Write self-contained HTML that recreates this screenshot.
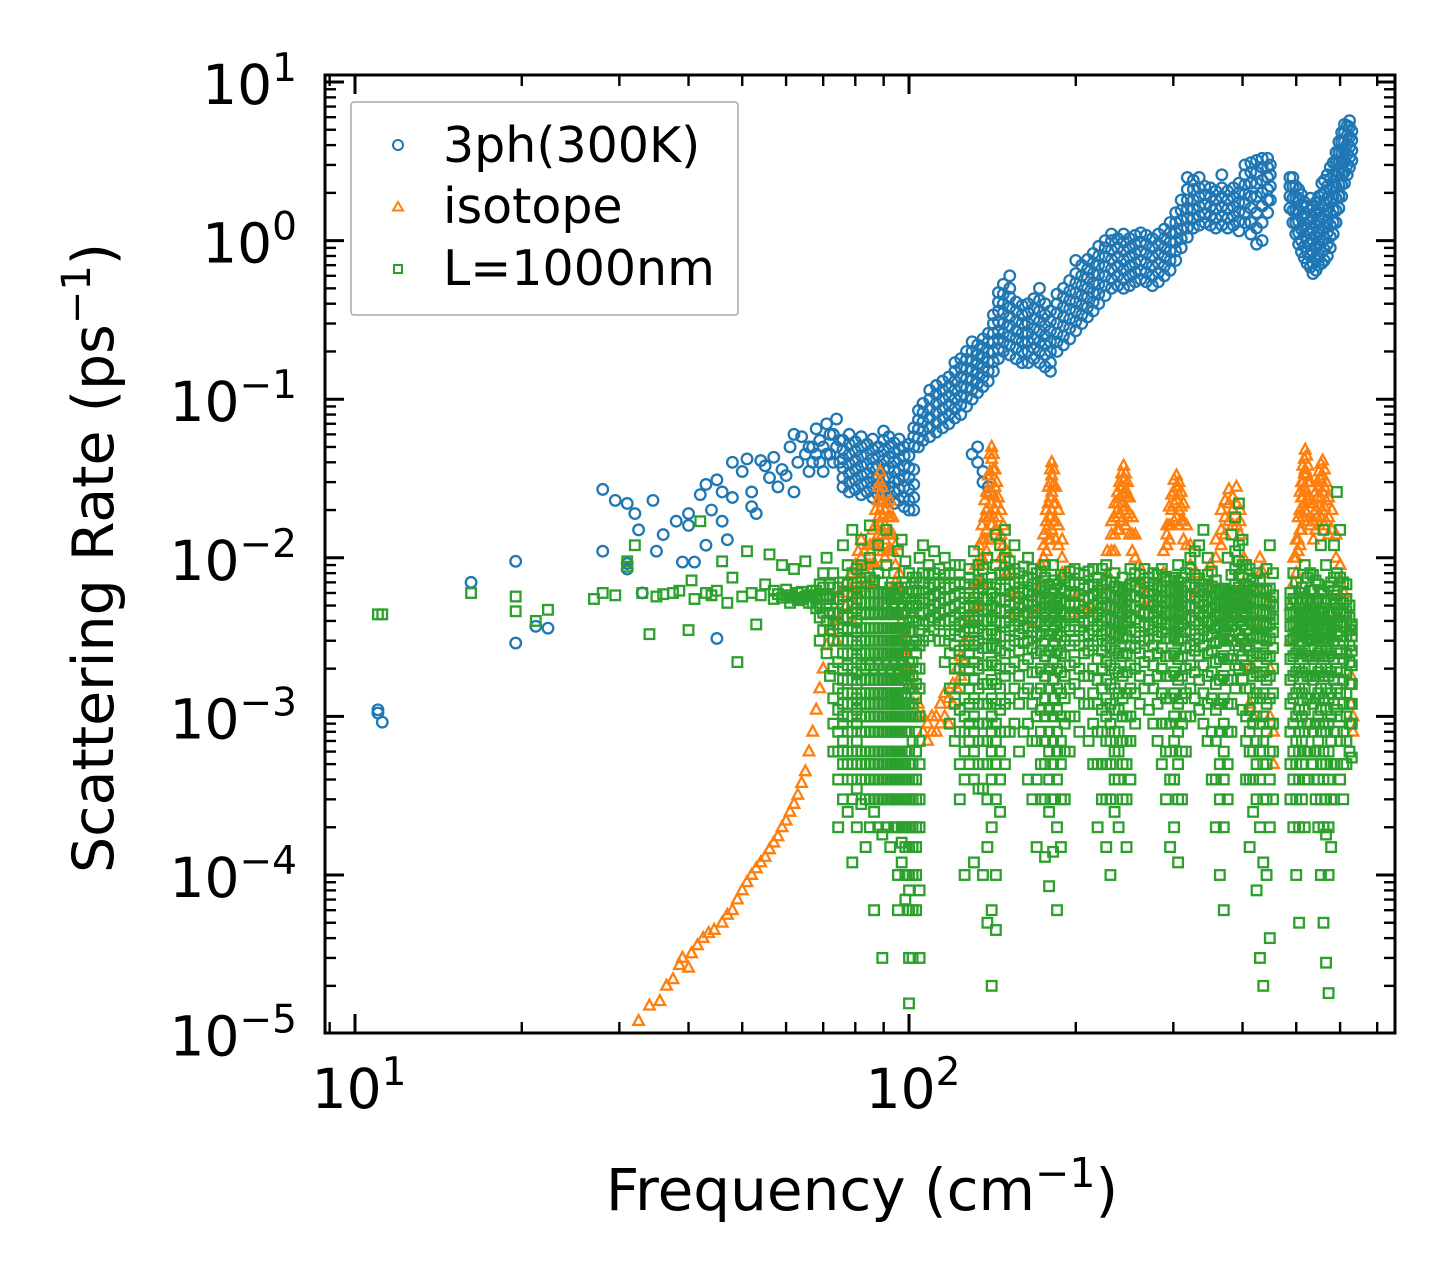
<!DOCTYPE html>
<html><head><meta charset="utf-8"><style>
html,body{margin:0;padding:0;background:#fff;}
svg{display:block;font-family:"DejaVu Sans","Liberation Sans",sans-serif;}
</style></head><body>
<svg id="chart" width="1455" height="1283" viewBox="0 0 1455 1283" xmlns="http://www.w3.org/2000/svg">
<rect x="0" y="0" width="1455" height="1283" fill="#fff"/>
<defs><clipPath id="plotclip"><rect x="325" y="75" width="1070" height="958"/></clipPath></defs>
<g id="marks" clip-path="url(#plotclip)"></g>
<g id="axes"></g>
<text x="862" y="1210" font-size="58" text-anchor="middle">Frequency (cm<tspan dy="-23" font-size="41">−1</tspan><tspan dy="23">)</tspan></text>
<text transform="translate(113,558) rotate(-90)" font-size="57" text-anchor="middle">Scattering Rate (ps<tspan dy="-23" font-size="40">−1</tspan><tspan dy="23">)</tspan></text>
<g>
<rect x="351" y="102" width="387" height="213" fill="#fff" fill-opacity="0.8" stroke="#aaa" stroke-width="1.5" rx="3"/>
<g><circle cx="398" cy="145" r="5" fill="none" stroke="#1f77b4" stroke-width="2"/><text x="443" y="162" font-size="49">3ph(300K)</text></g>
<g><path d="M398,202 L403,210.5 L393,210.5 Z" fill="none" stroke="#ff7f0e" stroke-width="2"/><text x="443" y="223" font-size="49">isotope</text></g>
<g><rect x="394" y="265" width="8" height="8" fill="none" stroke="#2ca02c" stroke-width="2"/><text x="443" y="285" font-size="49">L=1000nm</text></g>
</g>
</svg>
<script>
const xTickExps = [1, 2];
const yTickExps = [1, 0, -1, -2, -3, -4, -5];
const blueData = [
[11,[.0011,.00105]],[11.2,[.00092]],[16.2,[.007]],[19.5,[.0095,.0029]],[21.2,[.0037]],[22.3,[.0036]],
[28,[.027,.011]],[29.5,[.023]],[31,[.022,.0092,.0085]],[32,[.019]],[32.5,[.015]],[33,[.006]],[34.5,[.023]],[35,[.011]],[36,[.014]],[38,[.017]],[39,[.0094]],[40,[.019,.016]],[41,[.0094]],[42,[.025]],[43,[.029,.012]],[44,[.02]],[45,[.031,.0031]],[46,[.026,.017]],[47,[.013]],[48,[.04,.024]],[50,[.035]],[51,[.042]],[52,[.026,.021]],[53,[.019]],[54,[.041]],[55,[.038]],[56,[.032]],[57,[.043]],[58,[.028]],[59,[.036]],[60,[.033]],[61,[.05]],[62,[.06,.026]],[63,[.04]],[64,[.058]],[65,[.045]],[66,[.035,.05]],[67,[.05,.04]],[68,[.065,.045]],[69,[.04,.055]],[70,[.05,.035]],[71,[.07,.045]],[72,[.045,.06]],[73,[.06,.04]],[74,[.075,.05]],[75,[.055,.04]],
[76,[.028,.032,.037,.042,.048,.055]],[78,[.026,.03,.034,.039,.045,.052,.06]],[80,[.027,.031,.036,.041,.047,.054]],[82,[.025,.029,.033,.038,.044,.05,.058]],[84,[.026,.03,.034,.039,.045,.052]],[86,[.024,.028,.032,.037,.042,.048,.056]],[88,[.025,.029,.033,.038,.044,.05]],[90,[.023,.027,.031,.036,.041,.047,.055,.063]],[92,[.024,.028,.032,.037,.043,.05,.058]],[94,[.022,.026,.03,.035,.04,.046,.053]],[96,[.023,.027,.031,.036,.042,.048,.056]],[98,[.021,.024,.028,.033,.038,.044,.05]],[100,[.02,.023,.027,.032,.037,.044,.052]],[102,[.02,.024,.029,.036,.05,.058,.066]],[104,[.05,.057,.065,.074,.085]],
[106,[.055,.063,.072,.082,.094]],[109,[.058,.066,.076,.087,.1,.114]],[112,[.062,.071,.082,.094,.107,.122]],[115,[.066,.076,.087,.1,.114,.13]],[118,[.07,.08,.092,.105,.12,.138]],[121,[.076,.087,.1,.114,.13,.15,.17]],[124,[.08,.092,.105,.12,.138,.158,.18]],[127,[.09,.103,.118,.135,.155,.178,.2]],[130,[.045,.1,.115,.132,.152,.175,.2,.23]],[133,[.04,.05,.11,.126,.145,.167,.19,.22]],[136,[.03,.035,.12,.138,.158,.182,.21,.24]],[139,[.028,.13,.15,.172,.198,.23,.26]],[142,[.15,.172,.198,.23,.26,.3,.34]],[145,[.18,.207,.24,.27,.31,.36,.41,.47]],[148,[.2,.23,.26,.3,.35,.4,.46,.53]],[152,[.19,.22,.25,.29,.33,.38,.44,.5,.6]],[156,[.18,.21,.24,.27,.31,.36,.41]],[160,[.17,.2,.23,.26,.3,.34,.39]],[164,[.17,.2,.23,.26,.3,.35,.4]],[168,[.18,.21,.24,.28,.32,.37,.43]],[172,[.17,.2,.23,.27,.31,.36,.42,.5]],[176,[.16,.19,.22,.25,.29,.34,.4]],[180,[.15,.17,.2,.23,.27,.31,.36]],[185,[.2,.23,.26,.3,.35,.4,.46]],[190,[.22,.25,.29,.33,.38,.44,.5]],[195,[.24,.28,.32,.37,.42,.48,.56]],[200,[.27,.31,.36,.41,.47,.54,.62,.75]],[205,[.3,.34,.39,.45,.52,.6,.7]],[210,[.33,.38,.44,.5,.58,.66,.76]],[215,[.36,.41,.47,.54,.62,.72,.83]],[220,[.4,.46,.53,.61,.7,.8,.92]],[226,[.45,.52,.6,.69,.79,.9,1.0]],[232,[.5,.57,.66,.76,.87,1.0,1.1]],[238,[.52,.6,.69,.79,.9,1.03]],[244,[.5,.57,.65,.75,.86,.98,1.1]],[250,[.52,.6,.69,.79,.9,1.03]],[256,[.55,.63,.72,.83,.95,1.08]],[262,[.57,.65,.75,.86,.98,1.12]],[268,[.55,.63,.72,.83,.95,1.08]],[275,[.52,.6,.69,.79,.9,1.03]],[282,[.55,.63,.72,.83,.95,1.1]],[289,[.6,.69,.79,.9,1.03,1.18]],[296,[.65,.75,.86,.98,1.12,1.3]],[303,[.75,.86,.98,1.12,1.3,1.5]],[310,[.9,1.03,1.18,1.35,1.55,1.8]],[318,[1.05,1.2,1.38,1.58,1.8,2.1,2.5]],[326,[1.2,1.38,1.58,1.8,2.1,2.4]],[334,[1.25,1.43,1.64,1.88,2.15,2.5]],[342,[1.3,1.48,1.7,1.95,2.2]],[350,[1.25,1.43,1.64,1.88,2.15]],[358,[1.2,1.38,1.58,1.8,2.05]],[367,[1.25,1.43,1.64,1.88,2.15,2.6]],[376,[1.2,1.38,1.58,1.8,2.05]],[385,[1.25,1.43,1.64,1.88,2.15]],[394,[1.15,1.32,1.52,1.74,2.0,2.3]],[404,[1.3,1.5,1.72,1.97,2.25,2.6,3.0]],[414,[1.1,1.3,1.6,1.9,2.3,2.7,3.1]],[424,[0.95,1.2,1.5,1.9,2.3,2.7,3.2]],[434,[1.0,1.3,1.65,2.0,2.4,2.9,3.3]],[444,[1.5,1.8,2.1,2.5,2.9,3.3]],[449,[1.8,2.2,2.6,3.0]],
[487,[1.6,1.9,2.2,2.5]],[493,[1.3,1.55,1.85,2.2,2.5]],[499,[1.1,1.3,1.55,1.85,2.2]],[505,[0.95,1.12,1.32,1.55,1.85,2.1]],[511,[0.85,1.0,1.18,1.4,1.65,1.95]],[517,[0.78,0.92,1.08,1.28,1.5,1.75]],[523,[0.72,0.85,1.0,1.18,1.4,1.65]],[530,[0.68,0.8,0.94,1.1,1.3,1.55,1.85]],[536,[0.62,0.72,0.85,1.0,1.18,1.4,1.65]],[543,[0.65,0.76,0.9,1.06,1.25,1.48,1.75]],[549,[0.7,0.82,0.97,1.15,1.36,1.6,1.9]],[556,[0.72,0.85,1.0,1.18,1.4,1.65,1.95,2.3]],[562,[0.75,0.88,1.04,1.23,1.45,1.7,2.0,2.4]],[569,[0.8,0.95,1.12,1.32,1.56,1.85,2.2,2.6]],[576,[0.9,1.06,1.25,1.48,1.75,2.07,2.45,2.9]],[583,[1.1,1.3,1.55,1.85,2.2,2.6,3.1]],[590,[1.3,1.55,1.85,2.2,2.6,3.1,3.6]],[597,[1.6,1.9,2.25,2.65,3.1,3.6,4.2]],[604,[1.9,2.25,2.65,3.1,3.6,4.2,4.8]],[611,[2.3,2.7,3.15,3.65,4.2,4.8,5.4]],[618,[2.6,3.0,3.5,4.05,4.6,5.3]],[624,[2.9,3.35,3.9,4.5,5.2,5.7]],[630,[3.2,3.7,4.3,4.9]]
];
const orangeData = [
[32.5,[1.2e-5]],[34,[1.5e-5]],[35.5,[1.6e-5]],[36.5,[2e-5]],[37.5,[2.2e-5]],[38.5,[2.7e-5]],[39,[3e-5]],[40,[2.6e-5]],[40.5,[3.2e-5]],[41.5,[3.6e-5]],[42.5,[4e-5]],[43.5,[4.3e-5]],[44.5,[4.5e-5]],[46,[5e-5]],[47,[5.6e-5]],[48,[6e-5]],[49,[7e-5]],[50,[8e-5]],[51,[9e-5]],[52,[1e-4]],[53,[1.1e-4]],[54,[1.2e-4]],[55,[1.3e-4]],[56,[1.45e-4]],[57,[1.6e-4]],[58,[1.75e-4]],[59,[2e-4]],[60,[2.2e-4]],[61,[2.5e-4]],[62,[2.8e-4]],[63,[3.2e-4]],[64,[3.8e-4]],[65,[4.5e-4]],[66,[6e-4]],[67,[8e-4]],[68,[1.1e-3]],[69,[1.5e-3]],[70,[2e-3]],[71,[2.8e-3]],[72,[3.5e-3]],
[74,[4.5e-3,3e-3]],[75,[6e-3,4e-3]],[77,[7e-3,5e-3]],[79,[8e-3,6e-3,4e-3]],[80,[9e-3,7e-3,5e-3]],[81,[1.1e-2,8e-3,6e-3]],[82,[1.3e-2,1e-2,7.5e-3]],[83,[1.1e-2,8.5e-3,6.5e-3]],[84,[9e-3,7e-3]],[85,[1.2e-2,9e-3,7e-3]],[86,[1.5e-2,1.2e-2,9e-3]],[87,[2e-2,1.6e-2,1.2e-2,9e-3]],[88,[2.8e-2,2.3e-2,1.8e-2,1.4e-2,1.1e-2]],[88.7,[3.5e-2,3e-2,2.5e-2,2e-2,1.6e-2]],[89.5,[2.8e-2,2.3e-2,1.8e-2,1.4e-2,1.1e-2]],[90.5,[2e-2,1.6e-2,1.3e-2,1e-2]],[91.5,[1.8e-2,2.2e-2,1.4e-2,1.1e-2]],[92.5,[2.3e-2,1.8e-2,1.4e-2,1.1e-2]],[93.5,[1.8e-2,1.4e-2,1.1e-2]],[94.5,[1.2e-2,9e-3,7e-3]],[96,[8e-3,6e-3,4.5e-3]],[97,[5e-3,4e-3,3e-3]],[98,[3.5e-3,2.6e-3,2e-3]],[99,[2.5e-3,1.9e-3]],[100,[2e-3,1.6e-3]],[102,[1.5e-3,1.2e-3]],[104,[1.2e-3,1e-3]],[106,[1.0e-3,8e-4]],[108,[9e-4,7e-4]],[110,[8e-4,1e-3]],[112,[1e-3,8e-4]],[114,[1.2e-3,9e-4]],[116,[1e-3,1.4e-3]],[118,[9e-4,1.3e-3]],[120,[1.2e-3,1.6e-3]],[122,[1.5e-3,2e-3]],[124,[1.8e-3,2.4e-3]],[126,[2.2e-3,3e-3]],[128,[3e-3,4e-3]],[130,[4e-3,5.5e-3]],[132,[5e-3,7e-3,9e-3]],[134,[7e-3,9e-3,1.2e-2,5e-3]],[135.5,[1e-2,1.3e-2,1.6e-2,7e-3]],[137,[1.3e-2,1.8e-2,2.3e-2,9e-3]],[138,[1.5e-2,2e-2,2.6e-2,1.1e-2]],[139,[2.5e-2,3.3e-2,1.8e-2,1.3e-2]],[140,[3.5e-2,4.5e-2,2.6e-2,1.8e-2,1.3e-2]],[141,[5e-2,4.2e-2,3e-2,2.2e-2,1.6e-2]],[142,[4.5e-2,3.6e-2,2.5e-2,1.8e-2]],[143,[3.6e-2,2.8e-2,2e-2,1.5e-2]],[144,[3e-2,2.2e-2,1.5e-2]],[145,[2.4e-2,1.8e-2,1.3e-2]],[146.5,[2e-2,1.4e-2,1e-2]],[148,[1.6e-2,1.2e-2,9e-3]],[150,[1.1e-2,8e-3]],[153,[8e-3,6e-3]],[156,[6e-3,4.5e-3]],[160,[5e-3]],[165,[4e-3]],[170,[4.5e-3,6e-3]],[173,[7e-3,9e-3]],[175,[1e-2,1.4e-2,1.2e-2]],[177,[1.5e-2,2e-2,1.1e-2,1.7e-2]],[178.5,[2.2e-2,2.8e-2,1.6e-2,1.3e-2]],[180,[3e-2,3.6e-2,2.4e-2,1.8e-2,1.3e-2]],[181,[4e-2,3.3e-2,2.6e-2,2e-2,1.5e-2]],[182.5,[3.6e-2,2.9e-2,2.2e-2,1.7e-2]],[184,[2.8e-2,2.2e-2,1.7e-2,1.3e-2]],[186,[2e-2,1.6e-2,1.2e-2]],[189,[1.3e-2,1e-2,8e-3]],[193,[8e-3,6e-3]],[198,[6e-3,4.5e-3]],[205,[5e-3]],[212,[4.5e-3]],[220,[5e-3,6.5e-3]],[228,[8e-3,1.1e-2]],[232,[1.1e-2,1.4e-2,1.7e-2]],[235,[1.4e-2,1.8e-2,2.2e-2,1.1e-2]],[238,[2e-2,2.6e-2,1.5e-2,2.2e-2]],[240,[2.4e-2,3e-2,1.9e-2,1.5e-2]],[242,[2.8e-2,3.4e-2,2.2e-2,1.7e-2]],[244,[3.8e-2,3.1e-2,2.5e-2,2e-2]],[246,[3.4e-2,2.7e-2,2.1e-2,1.6e-2]],[248,[3e-2,2.4e-2,1.8e-2]],[250,[2.4e-2,1.9e-2,1.4e-2]],[253,[1.8e-2,1.4e-2,1.1e-2]],[256,[1.4e-2,1e-2]],[260,[9e-3,7e-3]],[266,[6e-3,5e-3]],[274,[5e-3]],[282,[5.5e-3,7e-3]],[288,[8e-3,1.1e-2]],[292,[1.2e-2,1.6e-2,1.4e-2]],[295,[1.6e-2,2.1e-2,1.3e-2]],[298,[2e-2,2.5e-2,1.6e-2]],[301,[2.6e-2,3.1e-2,2.2e-2,1.7e-2]],[304,[3.3e-2,2.8e-2,2.3e-2,1.8e-2]],[307,[3e-2,2.5e-2,2e-2,1.6e-2]],[310,[2.6e-2,2.1e-2,1.7e-2]],[313,[2.2e-2,1.7e-2,1.3e-2]],[317,[1.6e-2,1.2e-2]],[322,[1.2e-2,9e-3]],[330,[8e-3,6e-3]],[340,[6e-3,7e-3]],[350,[7e-3,9e-3]],[358,[1e-2,1.3e-2]],[366,[1.5e-2,2e-2,1.2e-2]],[372,[1.8e-2,2.3e-2,1.4e-2]],[378,[2.2e-2,2.7e-2,1.7e-2]],[384,[2.4e-2,2e-2,1.6e-2]],[390,[2.2e-2,2.8e-2,1.6e-2]],[396,[2e-2,1.4e-2,1.7e-2]],[402,[1e-2,7e-3]],[407,[5e-3,3e-3]],[412,[2e-3,1.2e-3]],[418,[1e-3,2e-3]],[424,[4e-3,6e-3]],[430,[8e-3,1e-2]],[436,[8e-3,6e-3]],[442,[5e-3,3e-3]],[448,[2e-3,1e-3]],[455,[8e-4,5e-4]],
[488,[3e-3,5e-3]],[495,[7e-3,1e-2]],[500,[1e-2,1.3e-2,8e-3]],[504,[1.3e-2,1.8e-2,1.1e-2]],[508,[2e-2,2.6e-2,1.5e-2,1.2e-2]],[511,[2.4e-2,3e-2,1.9e-2,1.5e-2]],[514,[3e-2,3.8e-2,2.4e-2,1.8e-2]],[517,[4.2e-2,3.4e-2,2.8e-2,2.2e-2,1.7e-2]],[519,[4.8e-2,3.6e-2,2.7e-2,2e-2]],[522,[4.4e-2,3.4e-2,2.6e-2,1.9e-2]],[525,[3.8e-2,3e-2,2.3e-2,1.7e-2]],[530,[3e-2,2.2e-2,1.6e-2]],[537,[2.2e-2,1.7e-2,1.3e-2]],[542,[2.6e-2,2e-2,1.5e-2]],[546,[3e-2,2.4e-2,1.8e-2]],[550,[3.5e-2,2.8e-2,2.1e-2,1.6e-2]],[554,[3.9e-2,3.1e-2,2.4e-2,1.8e-2]],[558,[4.1e-2,3.3e-2,2.6e-2,2e-2]],[562,[3.6e-2,2.8e-2,2.1e-2,1.6e-2]],[566,[3e-2,2.3e-2,1.7e-2]],[572,[2.4e-2,1.8e-2,1.4e-2]],[580,[2e-2,1.5e-2]],[590,[1.4e-2,1e-2]],[600,[9e-3,7e-3]],[610,[6e-3,4.5e-3]],[620,[3.5e-3,2.5e-3]],[628,[1.8e-3,1.2e-3]],[633,[1e-3,8e-4]]
];
const greenData = [
[11,[.0044]],[11.2,[.0044]],[16.2,[.006]],[19.5,[.0057,.0046]],[21.2,[.004]],[22.3,[.0047]],[27,[.0055]],[28,[.006]],[29.5,[.0058]],[31,[.0095,.0088]],[32,[.012]],[33,[.006]],[34,[.0033]],[35,[.0057]],[36,[.0059]],[37.5,[.006]],[38.5,[.0062]],[40,[.0035]],[40.5,[.0072]],[41,[.0055]],[42,[.017]],[43,[.006]],[44,[.0058]],[45,[.0062]],[46,[.0095]],[47,[.0052]],[48,[.0075]],[49,[.0022]],[50,[.0057]],[51,[.011]],[52,[.006]],[53,[.0038]],[54,[.0058]],[55,[.0068]],[56,[.0105]],[57,[.0055,.0062]],[58,[.0059]],[59,[.009,.0056]],[60,[.0058,.0063]],[61,[.0052,.0058]],[62,[.0085,.0056]],[63,[.006,.0054]],[64,[.0055,.0061]],[65,[.0095,.0057]],[66,[.0058,.0052]],[67,[.0052,.0062]],[68,[.0062,.0048,.0056]],
[69,[.003,.0042,.005,.0058,.0068]],[70,[.0035,.0045,.0055,.0065,.008]],[71,[.0025,.004,.005,.0058,.01]],[72,[.0018,.0035,.0045,.0055,.0068]],[73,[.0006,.0009,.0013,.002,.003,.0038,.0045,.0055,.0065,.008]],[74.5,[.0002,.0004,.0006,.0008,.0011,.0015,.0022,.003,.0038,.0045,.0055,.0065]],[76,[.0003,.0005,.0006,.0007,.0009,.001,.0012,.0014,.0017,.002,.0025,.003,.0036,.0042,.005,.0058,.007,.012]],[77.5,[.00025,.0004,.0005,.0006,.0008,.001,.0012,.0014,.0017,.0021,.0025,.003,.0035,.0042,.005,.0058,.0068,.009]],[79,[.00012,.0003,.0004,.0005,.0006,.0008,.001,.0012,.0014,.0017,.002,.0025,.003,.0036,.0045,.0052,.006,.008,.015]],[80.5,[.0002,.00035,.0005,.0006,.0007,.0009,.0011,.0013,.0016,.0019,.0023,.0028,.0034,.004,.0048,.0055,.0065,.0085]],[82,[.00028,.0004,.0005,.0006,.0008,.001,.0012,.0014,.0017,.0021,.0025,.003,.0036,.0044,.0052,.006,.007,.009,.013]],[83.5,[.00015,.0003,.0004,.0005,.0006,.0008,.001,.0012,.0014,.0017,.002,.0025,.003,.0036,.0045,.0052,.006,.0075]],[85,[.0002,.0003,.0004,.0005,.0006,.0008,.001,.0012,.0014,.0017,.0021,.0025,.003,.0036,.0044,.0052,.006,.0075,.01,.016]],[86.5,[.00006,.00025,.0003,.0004,.0005,.0006,.0008,.001,.0012,.0014,.0017,.002,.0025,.003,.0036,.0045,.0052,.006,.0072]],[88,[.0002,.0003,.0004,.0005,.0006,.0008,.001,.0012,.0014,.0017,.0021,.0025,.003,.0036,.0044,.0052,.006,.008,.012]],[89.5,[.00003,.00018,.0003,.0004,.0005,.0006,.0008,.001,.0012,.0014,.0017,.002,.0025,.003,.0036,.0045,.0052,.006,.007]],[91,[.0002,.0003,.0004,.0005,.0006,.0008,.001,.0012,.0014,.0017,.0021,.0025,.003,.0036,.0044,.0052,.006,.009,.015]],[92.5,[.00015,.0003,.0004,.0005,.0006,.0008,.001,.0012,.0014,.0017,.002,.0025,.003,.0036,.0045,.0055,.0065]],[94,[.0002,.0003,.0004,.0005,.0006,.0008,.001,.0012,.0014,.0017,.0021,.0025,.003,.0036,.0044,.0052,.006,.008]],[95.5,[.00006,.0001,.0002,.0003,.0004,.0005,.0006,.0008,.001,.0012,.0014,.0017,.002,.0025,.003,.0036,.0045,.0055,.0065,.011]],[97,[.00016,.00012,.0002,.0003,.0004,.0005,.0006,.0008,.001,.0012,.0014,.0017,.0021,.0025,.003,.0036,.0044,.0052,.0065,.013]],[98.5,[.00007,.0001,.00015,.0002,.0003,.0004,.0005,.0006,.0008,.001,.0012,.0014,.0017,.002,.0025,.003,.0036,.0045,.0055,.007,.0095]],[100,[.0000155,.00003,.00006,.00008,.0001,.00015,.0002,.0003,.0004,.0005,.0006,.0008,.001,.0012,.0015,.0018,.0022,.0028,.0034,.004,.005,.006,.008]],[101.5,[.00003,.00006,.0001,.00015,.0002,.0003,.0004,.0005,.0007,.001,.0012,.0015,.0018,.0022,.0028,.0034,.0042,.005,.006,.0075]],[103,[.00006,.0001,.00015,.0002,.0003,.0004,.0006,.0008,.001,.0013,.0016,.002,.0025,.003,.004,.005,.0062,.0075]],[104.5,[.00003,.00008,.0002,.0003,.0005,.0007,.001,.0015,.002,.0028,.0035,.0045,.0055,.007,.01]],
[106,[.003,.0038,.0045,.0052,.006,.007,.008,.012]],[108.5,[.0032,.004,.0047,.0055,.0065,.0078,.009]],[111,[.0035,.0042,.005,.0058,.0068,.008,.011]],[113.5,[.003,.0038,.0045,.0052,.006,.007,.0085]],[116,[.0022,.003,.004,.0047,.0055,.0065,.0078,.01]],[118.5,[.0009,.0015,.0025,.0033,.004,.0048,.0056,.0065,.008]],[121,[.0007,.0012,.002,.0028,.0035,.0042,.005,.0058,.0068,.009]],[123.5,[.0003,.0005,.0008,.0011,.0015,.002,.0026,.0032,.0038,.0045,.0052,.006,.007,.009]],[126,[.0001,.0004,.0006,.0008,.001,.0013,.0017,.0022,.0028,.0034,.004,.0048,.0056,.0068]],[128.5,[.0005,.0007,.0009,.0012,.0015,.002,.0025,.003,.0036,.0043,.005,.006,.0075,.0085]],[131,[.00012,.0004,.0006,.0008,.001,.0013,.0017,.0022,.0028,.0034,.004,.0048,.0056,.0068,.011]],[133.5,[.00035,.0005,.0007,.0009,.0012,.0015,.002,.0025,.003,.0036,.0043,.005,.006,.0072,.009]],[136,[.0001,.00035,.0005,.0007,.0009,.0012,.0016,.0021,.0027,.0033,.004,.0047,.0055,.0065,.0085]],[138.5,[.00005,.00015,.0003,.0005,.0007,.0009,.0012,.0016,.0021,.0027,.0033,.004,.0047,.0055,.0068,.01]],[141,[.00002,.00006,.0002,.0004,.0006,.0008,.001,.0013,.0017,.0022,.0028,.0035,.0042,.005,.006,.0075]],[143.5,[.000045,.0001,.0003,.0005,.0007,.0009,.0012,.0016,.0021,.0027,.0033,.004,.0048,.0056,.0068,.009,.014]],[146,[.00025,.0004,.0006,.0008,.0011,.0015,.002,.0026,.0032,.0039,.0046,.0054,.0064,.008,.012]],[149,[.0005,.0008,.0012,.0018,.0025,.0032,.0039,.0046,.0054,.0064,.0078,.01,.015]],[152,[.0008,.0013,.002,.0028,.0035,.0042,.005,.0058,.0068,.008,.0095]],[155,[.0009,.0015,.0022,.003,.0037,.0044,.0052,.006,.007,.0085,.012]],[158,[.0006,.0012,.0018,.0026,.0033,.004,.0048,.0056,.0065,.008]],[161,[.0008,.0014,.0021,.0029,.0036,.0043,.0051,.006,.0072,.0088]],[164,[.0004,.0009,.0015,.0023,.003,.0037,.0045,.0053,.0062,.0075,.01]],[167,[.0003,.0007,.0012,.0019,.0027,.0034,.0042,.005,.0058,.0068,.0085]],[170,[.00015,.0004,.0007,.001,.0014,.0019,.0025,.0032,.0039,.0046,.0054,.0064,.008]],[173,[.0003,.0005,.0008,.0011,.0015,.002,.0026,.0033,.004,.0048,.0056,.0066,.0082]],[176,[.00013,.0003,.0005,.0007,.001,.0013,.0018,.0024,.003,.0037,.0044,.0052,.0062,.0075,.009]],[179,[.000085,.00025,.0004,.0006,.0008,.0011,.0015,.002,.0026,.0033,.004,.0048,.0056,.0068]],[182,[.00014,.0003,.0005,.0007,.001,.0013,.0017,.0022,.0028,.0035,.0042,.005,.006,.0072,.009]],[185,[.00006,.0002,.0004,.0006,.0008,.0011,.0015,.002,.0026,.0033,.004,.0048,.0056,.0068]],[188,[.00015,.0003,.0005,.0007,.001,.0014,.0019,.0025,.0032,.0039,.0046,.0054,.0064,.0078]],[191,[.0003,.0006,.0009,.0013,.0018,.0024,.003,.0037,.0044,.0052,.0062,.0075]],[195,[.0006,.001,.0015,.0021,.0028,.0035,.0042,.005,.0058,.0068,.0082]],[199,[.001,.0016,.0022,.003,.0037,.0044,.0052,.006,.007,.0085]],[203,[.0008,.0014,.002,.0028,.0035,.0042,.005,.0058,.0068,.008]],[207,[.0012,.0018,.0025,.0032,.0039,.0046,.0054,.0064,.0078]],[211,[.0007,.0012,.0018,.0026,.0033,.004,.0048,.0056,.0066,.0082]],[215,[.0005,.0009,.0014,.002,.0028,.0035,.0042,.005,.0058,.0068,.0085]],[219,[.0002,.0005,.0008,.0012,.0017,.0023,.003,.0037,.0044,.0052,.0062,.0075]],[223,[.0003,.0005,.0008,.0011,.0015,.002,.0026,.0033,.004,.0048,.0056,.0068,.0085]],[227,[.00015,.0003,.0005,.0007,.001,.0013,.0017,.0022,.0028,.0035,.0042,.005,.006,.0072,.009]],[231,[.0001,.0003,.0005,.0007,.0009,.0012,.0016,.0021,.0027,.0034,.0041,.0049,.0058,.007]],[235,[.00025,.0004,.0006,.0008,.0011,.0015,.002,.0026,.0033,.004,.0048,.0056,.0066,.008]],[239,[.0002,.0004,.0006,.0008,.0011,.0014,.0019,.0025,.0032,.0039,.0046,.0054,.0064]],[243,[.0003,.0005,.0007,.001,.0013,.0018,.0024,.0031,.0038,.0045,.0053,.0062,.0075]],[247,[.00015,.0003,.0005,.0007,.001,.0014,.0019,.0025,.0032,.0039,.0046,.0054,.0064]],[251,[.0004,.0007,.001,.0015,.0021,.0028,.0035,.0042,.005,.0058,.0068,.0085]],[256,[.0009,.0014,.002,.0027,.0034,.0041,.0049,.0057,.0066,.008]],[261,[.0012,.0018,.0025,.0032,.0039,.0046,.0054,.0064,.0078]],[266,[.0015,.0022,.003,.0037,.0044,.0052,.006,.007,.0085]],[271,[.0011,.0017,.0024,.0031,.0038,.0045,.0053,.0062,.0075]],[276,[.0009,.0015,.0021,.0028,.0035,.0042,.005,.0058,.0068,.008]],[281,[.0007,.0012,.0018,.0025,.0032,.0039,.0046,.0054,.0064,.0078]],[286,[.0005,.0009,.0014,.002,.0027,.0034,.0041,.0049,.0057,.0066,.0085]],[291,[.0003,.0006,.0009,.0013,.0018,.0024,.0031,.0038,.0045,.0053,.0062,.0076]],[296,[.00015,.0004,.0006,.0009,.0013,.0018,.0024,.0031,.0038,.0045,.0053,.0062,.0072]],[301,[.0002,.0004,.0007,.001,.0014,.0019,.0025,.0032,.0039,.0046,.0054,.0064,.0075]],[306,[.00012,.0003,.0005,.0008,.0012,.0017,.0023,.003,.0037,.0044,.0052,.006,.007,.009]],[311,[.0003,.0006,.0009,.0013,.0018,.0024,.0031,.0038,.0045,.0053,.0062,.0075]],[316,[.0006,.001,.0014,.002,.0027,.0034,.0041,.0049,.0057,.0066,.008]],[322,[.001,.0015,.0021,.0028,.0035,.0042,.005,.0058,.0068,.0085,.01]],[328,[.0013,.0019,.0026,.0033,.004,.0048,.0056,.0065,.0078,.011]],[334,[.0011,.0017,.0024,.0031,.0038,.0045,.0053,.0062,.0074,.012]],[340,[.0009,.0014,.0021,.0028,.0035,.0042,.005,.0058,.0068,.015]],[346,[.0007,.0012,.0018,.0025,.0032,.0039,.0046,.0054,.0064,.0078,.01]],[352,[.0004,.0008,.0013,.0019,.0026,.0033,.004,.0048,.0056,.0066,.0082]],[358,[.0002,.0004,.0007,.0011,.0016,.0022,.0029,.0036,.0043,.0051,.006,.0072]],[364,[.0001,.0003,.0005,.0008,.0012,.0017,.0023,.003,.0037,.0044,.0052,.0062]],[370,[.00006,.0002,.0004,.0006,.0009,.0013,.0018,.0024,.0031,.0038,.0045,.0053,.0064]],[376,[.0003,.0005,.0008,.0012,.0017,.0023,.003,.0037,.0044,.0052,.0062,.01]],[382,[.0008,.0012,.0017,.0023,.003,.0037,.0044,.0052,.0062,.0078,.014]],[388,[.0015,.0021,.0028,.0035,.0042,.005,.0058,.0068,.0085,.011,.018]],[394,[.002,.0026,.0033,.004,.0048,.0056,.0065,.0078,.0095,.012,.022]],[400,[.0011,.0017,.0024,.0031,.0038,.0045,.0053,.0062,.0075,.009,.013]],[406,[.0004,.0007,.001,.0015,.0021,.0028,.0035,.0042,.005,.0058,.0068,.009]],[412,[.00015,.0004,.0006,.0008,.0011,.0015,.002,.0026,.0033,.004,.0048,.0056,.0066,.0085]],[418,[.00025,.0004,.0006,.0009,.0013,.0018,.0024,.0031,.0038,.0045,.0053,.0062,.0072]],[424,[.00008,.0003,.0005,.0007,.001,.0014,.0019,.0025,.0032,.0039,.0046,.0054,.0064,.008]],[430,[.00003,.0002,.0004,.0006,.0009,.0013,.0018,.0024,.0031,.0038,.0045,.0053,.0062,.0072]],[436,[.00002,.00012,.0003,.0005,.0007,.001,.0014,.0019,.0025,.0032,.0039,.0046,.0054,.0064]],[442,[.0001,.0003,.0005,.0008,.0012,.0017,.0023,.003,.0037,.0044,.0052,.0062,.0085]],[448,[.00004,.0002,.0004,.0006,.0009,.0013,.0018,.0024,.0031,.0038,.0045,.0053,.0064,.012]],[454,[.0003,.0006,.0009,.0014,.002,.0027,.0034,.0041,.0049,.0058,.008]],
[488,[.0003,.0005,.0008,.0012,.0017,.0023,.003,.0037,.0044,.0052,.006]],[494,[.0002,.0004,.0006,.0009,.0013,.0018,.0024,.0031,.0038,.0045,.0055,.008]],[500,[.0001,.0003,.0005,.0007,.001,.0014,.0019,.0025,.0032,.0039,.0046,.0055,.007]],[506,[.00005,.0002,.0004,.0006,.0008,.0011,.0015,.002,.0026,.0033,.004,.0048,.006]],[512,[.0003,.0005,.0007,.001,.0014,.0019,.0025,.0032,.0039,.0046,.0055,.0065]],[518,[.0002,.0004,.0006,.0008,.0011,.0015,.002,.0026,.0033,.004,.0048,.006,.009]],[524,[.0004,.0006,.0009,.0013,.0018,.0024,.0031,.0038,.0045,.0055,.0075]],[530,[.0006,.0009,.0013,.0018,.0024,.0031,.0038,.0045,.0053,.0062,.008]],[536,[.0005,.0008,.0012,.0017,.0023,.003,.0037,.0044,.0052,.0062,.0078]],[542,[.0003,.0006,.0009,.0013,.0018,.0024,.0031,.0038,.0045,.0053,.0072]],[548,[.0002,.0004,.0007,.001,.0014,.0019,.0025,.0032,.0039,.0046,.0055,.0068]],[554,[.0001,.0003,.0005,.0008,.0011,.0015,.002,.0026,.0033,.004,.0048,.0062,.012]],[560,[.00005,.0002,.0004,.0006,.0009,.0013,.0018,.0024,.0031,.0038,.0045,.006,.015]],[566,[.000028,.00018,.0003,.0005,.0008,.0011,.0015,.002,.0026,.0033,.004,.0052,.009]],[572,[.000018,.0001,.0002,.0004,.0006,.0009,.0013,.0018,.0024,.0031,.0038,.0046,.0066]],[578,[.00015,.0003,.0005,.0007,.001,.0014,.0019,.0025,.0032,.0039,.0046,.0055,.007]],[585,[.0003,.0005,.0008,.0012,.0017,.0023,.003,.0037,.0044,.0052,.0062,.0075,.012]],[592,[.0005,.0008,.0011,.0015,.002,.0026,.0033,.004,.0048,.0058,.008,.026]],[600,[.0004,.0007,.001,.0014,.0019,.0025,.0032,.0039,.0046,.0055,.0075,.015]],[608,[.0003,.0005,.0008,.0012,.0017,.0023,.003,.0037,.0044,.0052,.007]],[616,[.0005,.0007,.001,.0014,.0019,.0025,.0032,.0039,.0046,.0055,.0068]],[624,[.0006,.0009,.0012,.0016,.0022,.0028,.0035,.0042,.005]],[630,[.00055,.0009,.0012,.0016,.0021,.0026,.0032,.0038]]
];

const svgNS = "http://www.w3.org/2000/svg";
const PL = 325, PR = 1395, PT = 75, PB = 1033;
const xLogMin = 1 - 30/554, xDec = 554;
const yLogTop = 1 + 7/158.6, yDec = 158.6;
function xScale(f){ return PL + (Math.log10(f) - xLogMin) * xDec; }
function yScale(r){ return PT + (yLogTop - Math.log10(r)) * yDec; }

const marks = document.getElementById('marks');
const axes = document.getElementById('axes');

function drawSeries(data, kind, color){
  const g = document.createElementNS(svgNS, 'g');
  
  
  data.forEach(function(grp){
    const f = grp[0];
    grp[1].forEach(function(r){
      const x = xScale(f), y = yScale(r);
      let el;
      if (kind === 'circle') {
        el = document.createElementNS(svgNS, 'circle');
        el.setAttribute('cx', x); el.setAttribute('cy', y); el.setAttribute('r', 5.3);
      } else if (kind === 'triangle') {
        el = document.createElementNS(svgNS, 'path');
        el.setAttribute('d', 'M' + x + ',' + (y - 6) + ' L' + (x + 5.3) + ',' + (y + 3.8) + ' L' + (x - 5.3) + ',' + (y + 3.8) + ' Z');
      } else {
        el = document.createElementNS(svgNS, 'rect');
        el.setAttribute('x', x - 4.8); el.setAttribute('y', y - 4.8); el.setAttribute('width', 9.6); el.setAttribute('height', 9.6);
      }
      el.setAttribute('fill', 'none');
      el.setAttribute('stroke', color);
      el.setAttribute('stroke-width', 2.3);
      
      
      g.appendChild(el);
    });
  });
  marks.appendChild(g);
}
drawSeries(blueData, 'circle', '#1f77b4');
drawSeries(orangeData, 'triangle', '#ff7f0e');
drawSeries(greenData, 'square', '#2ca02c');

function line(x1,y1,x2,y2,w,name){
  const l = document.createElementNS(svgNS,'line');
  l.setAttribute('x1',x1); l.setAttribute('y1',y1); l.setAttribute('x2',x2); l.setAttribute('y2',y2);
  l.setAttribute('stroke','#000'); l.setAttribute('stroke-width',w);
  
  
  axes.appendChild(l);
}
for (let e = 0; e <= 2; e++){
  for (let m = 1; m <= 9; m++){
    const f = m * Math.pow(10, e);
    const x = xScale(f);
    if (x < PL || x > PR) continue;
    const len = m === 1 ? 19 : 11, w = m === 1 ? 3 : 2.4;
    line(x, PB, x, PB - len, w, 'x-tick');
    line(x, PT, x, PT + len, w, 'x-tick-top');
  }
}
xTickExps.forEach(function(e){
  const x = xScale(Math.pow(10, e));
  const t = document.createElementNS(svgNS,'text');
  t.setAttribute('x', x + 4); t.setAttribute('y', 1108);
  t.setAttribute('font-size', 55); t.setAttribute('text-anchor','middle');
  
  
  t.innerHTML = '10<tspan dy="-23" font-size="39">' + e + '</tspan>';
  axes.appendChild(t);
});
for (let e = -5; e <= 1; e++){
  for (let m = 1; m <= 9; m++){
    const r = m * Math.pow(10, e);
    const y = yScale(r);
    if (y < PT || y > PB) continue;
    const len = m === 1 ? 19 : 11, w = m === 1 ? 3 : 2.4;
    line(PL, y, PL + len, y, w, 'y-tick');
    line(PR, y, PR - len, y, w, 'y-tick-right');
  }
}
yTickExps.forEach(function(e){
  const y = yScale(Math.pow(10, e));
  const t = document.createElementNS(svgNS,'text');
  t.setAttribute('x', 297); t.setAttribute('y', y + 22);
  t.setAttribute('font-size', 55); t.setAttribute('text-anchor','end');
  
  
  t.innerHTML = '10<tspan dy="-23" font-size="39">' + (e < 0 ? '−' + (-e) : e) + '</tspan>';
  axes.appendChild(t);
});
const frame = document.createElementNS(svgNS,'rect');
frame.setAttribute('x', PL); frame.setAttribute('y', PT);
frame.setAttribute('width', PR - PL); frame.setAttribute('height', PB - PT);
frame.setAttribute('fill','none'); frame.setAttribute('stroke','#000'); frame.setAttribute('stroke-width', 3);


axes.appendChild(frame);
</script>
</body></html>
